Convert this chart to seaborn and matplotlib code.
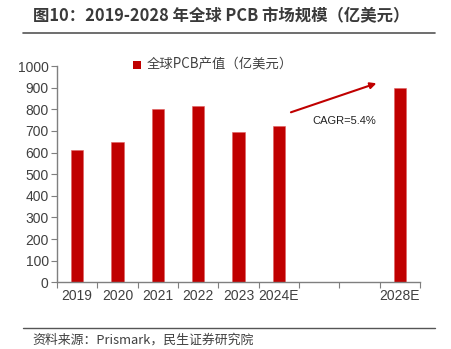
import matplotlib
matplotlib.use("Agg")
import matplotlib.pyplot as plt
import seaborn as sns
import pandas as pd
import numpy as np
from matplotlib.lines import Line2D
from matplotlib.patches import Rectangle

categories = ["2019", "2020", "2021", "2022", "2023", "2024E", "2028E"]
values = [612, 649, 803, 816, 694, 722, 900]
slot_order = ["2019", "2020", "2021", "2022", "2023", "2024E", "gap1", "gap2", "2028E"]
slot_labels = ["2019", "2020", "2021", "2022", "2023", "2024E", "", "", "2028E"]
y_ticks = [0, 100, 200, 300, 400, 500, 600, 700, 800, 900, 1000]
series_name = "全球PCB产值（亿美元）"
title = "图10：2019-2028 年全球 PCB 市场规模（亿美元）"
source = "资料来源：Prismark，民生证券研究院"
cagr_text = "CAGR=5.4%"

sns.set_theme(style="white")
plt.rcParams['font.family'] = ['Liberation Sans', 'Noto Sans CJK SC', 'DejaVu Sans']

W, H = 451, 349
fig = plt.figure(figsize=(W / 100, H / 100), dpi=100)
ax = fig.add_axes([57 / W, 1 - 282.3 / H, (420 - 57) / W, (282.3 - 66) / H])

df = pd.DataFrame({"cat": categories, "val": values})
red = "#C00000"
sns.barplot(data=df, x="cat", y="val", order=slot_order, color=red,
            saturation=1, width=0.3, ax=ax, edgecolor="#E06060", linewidth=0.4)

ax.set_xlim(-0.5, 8.5)
ax.set_ylim(0, 1000)
ax.set_xlabel("")
ax.set_ylabel("")

axis_col = "#7F7F7F"
txt_col = "#404040"
for s in ["top", "right"]:
    ax.spines[s].set_visible(False)
for s in ["left", "bottom"]:
    ax.spines[s].set_color(axis_col)
    ax.spines[s].set_linewidth(1.0)

ax.set_yticks(y_ticks)
ax.set_yticklabels([str(v) for v in y_ticks], fontsize=10, color=txt_col)
ax.tick_params(axis="y", direction="out", length=4, width=0.8, color=axis_col, pad=2, left=True)

# major ticks at slot boundaries (marks only), minor at centres (labels only)
ax.set_xticks(np.arange(-0.5, 9.0, 1.0))
ax.set_xticklabels([""] * 10)
ax.set_xticks(np.arange(0, 9), minor=True)
ax.set_xticklabels(slot_labels, minor=True, fontsize=10, color=txt_col)
ax.tick_params(axis="x", which="major", direction="out", length=4, width=0.8, color=axis_col, bottom=True)
ax.tick_params(axis="x", which="minor", length=0, pad=5, bottom=True)

# arrow and CAGR
ax.annotate("", xy=(7.42, 920), xytext=(5.30, 786),
            arrowprops=dict(arrowstyle="-|>", color=red, lw=1.5, mutation_scale=9,
                            shrinkA=0, shrinkB=0))
ax.text(5.84, 746, cagr_text, fontsize=8, color="#222222", ha="left", va="center")

# legend
fig.add_artist(Rectangle((133 / W, 1 - 69 / H), 8 / W, 8 / H, transform=fig.transFigure,
                         facecolor=red, edgecolor="none"))
fig.text(147 / W, 1 - 65 / H, series_name, fontsize=9.6, color=txt_col, va="center", ha="left",
         family=['Noto Sans CJK SC', 'DejaVu Sans'])

# title and lines
fig.text(33 / W, 1 - 16 / H, title, fontsize=11.8, fontweight="bold", color="#3A3A3A",
         va="center", ha="left", family=['Noto Sans CJK SC', 'DejaVu Sans'])
fig.add_artist(Line2D([23 / W, 435 / W], [1 - 33.3 / H, 1 - 33.3 / H], color="#555555", lw=1.2,
                      transform=fig.transFigure))
fig.add_artist(Line2D([23 / W, 435 / W], [1 - 327.7 / H, 1 - 327.7 / H], color="#555555", lw=1.0,
                      transform=fig.transFigure))
fig.text(32 / W, 1 - 340 / H, source, fontsize=9.3, color=txt_col, va="center", ha="left",
         family=['Noto Sans CJK SC', 'DejaVu Sans'])

fig.savefig("out.png", dpi=100)
